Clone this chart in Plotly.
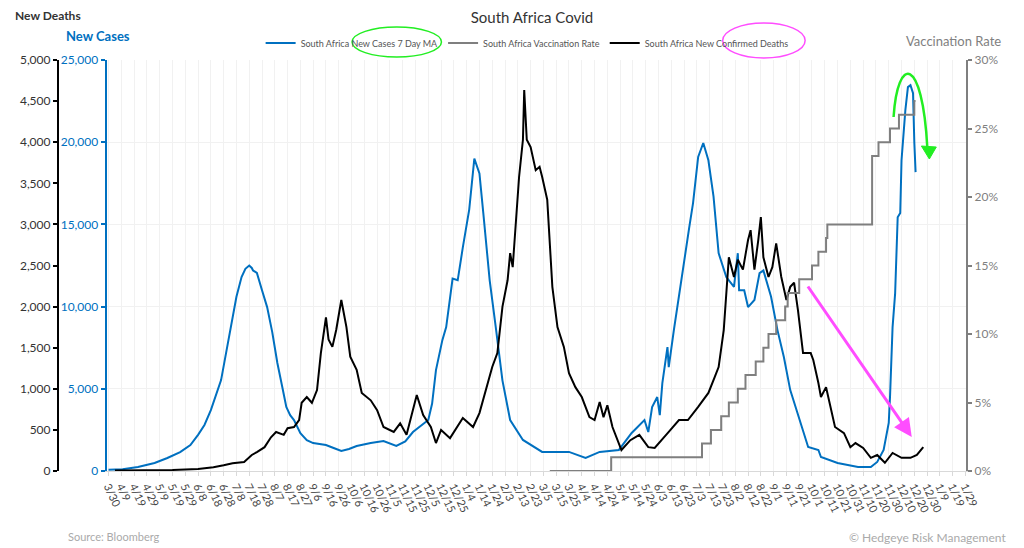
import plotly.graph_objects as go

# South Africa Covid: new cases (7d MA), new confirmed deaths, vaccination rate
cases_dates = [
    "2020-03-30", "2020-04-10", "2020-04-22", "2020-05-05", "2020-05-15", "2020-05-25",
    "2020-06-02", "2020-06-08", "2020-06-13", "2020-06-18", "2020-06-26", "2020-06-30",
    "2020-07-04", "2020-07-08", "2020-07-12", "2020-07-15", "2020-07-18", "2020-07-20",
    "2020-07-21", "2020-07-24", "2020-07-28", "2020-08-01", "2020-08-05", "2020-08-09",
    "2020-08-13", "2020-08-16", "2020-08-19", "2020-08-22", "2020-08-27", "2020-09-01",
    "2020-09-06", "2020-09-16", "2020-09-22", "2020-09-28", "2020-10-04", "2020-10-10",
    "2020-10-21", "2020-10-31", "2020-11-10", "2020-11-17", "2020-11-23", "2020-11-30",
    "2020-12-05", "2020-12-08", "2020-12-11", "2020-12-16", "2020-12-19", "2020-12-24",
    "2020-12-28", "2021-01-01", "2021-01-06", "2021-01-10", "2021-01-14", "2021-01-17",
    "2021-01-22", "2021-01-27", "2021-02-01", "2021-02-07", "2021-02-17", "2021-03-04",
    "2021-03-25", "2021-04-07", "2021-04-18", "2021-05-03", "2021-05-13", "2021-05-23",
    "2021-05-26", "2021-05-29", "2021-06-02", "2021-06-04", "2021-06-06", "2021-06-10",
    "2021-06-11", "2021-06-15", "2021-06-21", "2021-06-27", "2021-06-30", "2021-07-04",
    "2021-07-08", "2021-07-12", "2021-07-16", "2021-07-20", "2021-07-26", "2021-08-01",
    "2021-08-04", "2021-08-05", "2021-08-09", "2021-08-12", "2021-08-17", "2021-08-21",
    "2021-08-24", "2021-08-30", "2021-09-04", "2021-09-09", "2021-09-14", "2021-09-22",
    "2021-09-28", "2021-10-06", "2021-10-08", "2021-10-21", "2021-11-06", "2021-11-16",
    "2021-11-21", "2021-11-26", "2021-11-30", "2021-12-01", "2021-12-03", "2021-12-05",
    "2021-12-07", "2021-12-09", "2021-12-10", "2021-12-13", "2021-12-15", "2021-12-17",
    "2021-12-19", "2021-12-20", "2021-12-21",
]
cases_values = [
    80, 100, 240, 490, 790, 1150,
    1580, 2200, 2800, 3700, 5530, 7300,
    9000, 10600, 11800, 12300, 12500, 12350,
    12200, 12050, 11000, 9970, 8450, 6570,
    5050, 3890, 3400, 3100, 2300, 1880,
    1700, 1580, 1400, 1220, 1340, 1520,
    1700, 1820, 1520, 1800, 2370, 2800,
    3100, 4100, 6140, 7960, 8750, 11700,
    11600, 13600, 15900, 19000, 18100, 15700,
    11600, 8600, 5500, 3100, 1890, 1160,
    1160, 790, 1160, 1280, 2310, 3100,
    2370, 3890, 4500, 3400, 5350, 7540,
    6320, 8570, 11800, 14800, 16300, 19100,
    19950, 18900, 16700, 13250, 11800, 11200,
    13250, 11000, 11000, 9970, 10400, 12040,
    12200, 10600, 8570, 6930, 4920, 2920,
    1460, 1280, 850, 490, 240, 240,
    550, 1280, 2920, 4500, 8750, 10800,
    15440, 15700, 18900, 21950, 23350, 23470,
    22980, 20000, 18180,
]

deaths_dates = [
    "2020-04-04", "2020-04-29", "2020-05-19", "2020-06-08", "2020-06-20", "2020-06-28",
    "2020-07-05", "2020-07-14", "2020-07-20", "2020-07-24", "2020-07-30", "2020-08-04",
    "2020-08-08", "2020-08-14", "2020-08-17", "2020-08-22", "2020-08-26", "2020-08-28",
    "2020-09-01", "2020-09-05", "2020-09-09", "2020-09-12", "2020-09-16", "2020-09-18",
    "2020-09-21", "2020-09-24", "2020-09-28", "2020-10-02", "2020-10-05", "2020-10-10",
    "2020-10-14", "2020-10-21", "2020-10-26", "2020-10-31", "2020-11-08", "2020-11-13",
    "2020-11-18", "2020-11-26", "2020-12-01", "2020-12-07", "2020-12-11", "2020-12-15",
    "2020-12-22", "2021-01-01", "2021-01-09", "2021-01-14", "2021-01-19", "2021-01-24",
    "2021-01-28", "2021-02-01", "2021-02-05", "2021-02-07", "2021-02-09", "2021-02-11",
    "2021-02-14", "2021-02-17", "2021-02-18", "2021-02-20", "2021-02-23", "2021-02-27",
    "2021-03-02", "2021-03-04", "2021-03-08", "2021-03-12", "2021-03-16", "2021-03-21",
    "2021-03-25", "2021-03-30", "2021-04-04", "2021-04-10", "2021-04-14", "2021-04-18",
    "2021-04-21", "2021-04-24", "2021-04-28", "2021-05-05", "2021-05-12", "2021-05-19",
    "2021-05-26", "2021-05-31", "2021-06-05", "2021-06-11", "2021-06-19", "2021-06-26",
    "2021-07-04", "2021-07-12", "2021-07-17", "2021-07-20", "2021-07-24", "2021-07-26",
    "2021-07-28", "2021-08-01", "2021-08-04", "2021-08-08", "2021-08-12", "2021-08-14",
    "2021-08-17", "2021-08-20", "2021-08-22", "2021-08-24", "2021-08-28", "2021-08-31",
    "2021-09-03", "2021-09-07", "2021-09-11", "2021-09-14", "2021-09-17", "2021-09-20",
    "2021-09-24", "2021-09-30", "2021-10-02", "2021-10-06", "2021-10-08", "2021-10-12",
    "2021-10-16", "2021-10-19", "2021-10-26", "2021-10-31", "2021-11-04", "2021-11-10",
    "2021-11-16", "2021-11-21", "2021-11-27", "2021-12-03", "2021-12-10", "2021-12-17",
    "2021-12-22", "2021-12-27",
]
deaths_values = [
    5, 8, 12, 25, 45, 70,
    95, 110, 195, 230, 290, 410,
    475, 440, 520, 535, 620, 830,
    900, 830, 985, 1435, 1870, 1600,
    1510, 1715, 2080, 1750, 1390, 1230,
    950, 860, 740, 535, 475, 580,
    440, 925, 680, 535, 340, 500,
    400, 645, 535, 705, 985, 1265,
    1435, 2000, 2320, 2650, 2480, 2930,
    3580, 4030, 4635, 4030, 3940, 3660,
    3700, 3580, 3300, 2240, 1750, 1510,
    1190, 1020, 900, 655, 620, 840,
    655, 800, 535, 255, 375, 440,
    290, 280, 375, 475, 620, 620,
    780, 950, 1145, 1265, 1715, 2120,
    2600, 2360, 2570, 2450, 2810, 2930,
    2450, 2810, 3090, 2600, 2360, 2480,
    2770, 2360, 2080, 2240, 2290, 1960,
    1435, 1435, 1350, 1070, 900, 1020,
    740, 535, 460, 290, 340, 280,
    160, 195, 100, 220, 160, 160,
    195, 290,
]

vac_dates = [
    "2021-03-10", "2021-04-27", "2021-07-07", "2021-07-14", "2021-07-22", "2021-07-28",
    "2021-08-04", "2021-08-10", "2021-08-18", "2021-08-24", "2021-08-28", "2021-09-03",
    "2021-09-10", "2021-09-12", "2021-09-21", "2021-10-01", "2021-10-06", "2021-10-12",
    "2021-10-13", "2021-11-17", "2021-11-22", "2021-12-01", "2021-12-08", "2021-12-20",
    "2021-12-21",
]
vac_values = [
    0, 1, 2, 3, 4, 5,
    6, 7, 8, 9, 10, 11,
    12, 13, 14, 15, 16, 17,
    18, 23, 24, 25, 26, 27,
    27,
]

BLUE = "#0070C0"
GRAY = "#7F7F7F"
FONT = "Lato"

# the page puts the figure 8px in from the top-left corner
OFF = 8
W, H = 1024 - OFF, 548 - OFF
ML, MR, MT, MB = 32, 40, 52, 77
PW, PH = W - ML - MR, H - MT - MB


def px(x):  # page pixel -> paper x
    return (x - OFF - ML) / PW


def py(y):  # page pixel -> paper y
    return (H - MB - (y - OFF)) / PH


fig = go.Figure()
fig.add_trace(go.Scatter(x=cases_dates, y=cases_values, mode="lines",
                         name="South Africa New Cases 7 Day MA",
                         line=dict(color=BLUE, width=2), yaxis="y"))
fig.add_trace(go.Scatter(x=vac_dates, y=vac_values, mode="lines",
                         name="South Africa Vaccination Rate",
                         line=dict(color=GRAY, width=2, shape="hv"), yaxis="y3"))
fig.add_trace(go.Scatter(x=deaths_dates, y=deaths_values, mode="lines",
                         name="South Africa New Confirmed Deaths",
                         line=dict(color="black", width=2), yaxis="y2"))

fig.update_layout(
    width=W, height=H,
    margin=dict(l=ML, r=MR, t=MT, b=MB),
    paper_bgcolor="white", plot_bgcolor="white",
    font=dict(family=FONT, color="#333"),
    title=dict(text="South Africa Covid", x=(532 - OFF) / W, xanchor="center",
               y=1 - (18 - OFF) / H, yanchor="middle", font=dict(size=15, color="#333")),
    showlegend=True,
    legend=dict(orientation="h", x=px(256), y=py(43), xanchor="left", yanchor="middle",
                font=dict(size=9, color="#555"), itemwidth=30,
                bgcolor="rgba(0,0,0,0)"),
    xaxis=dict(
        domain=[px(101), px(966)],
        type="date",
        range=["2020-03-28 12:00", "2022-01-29 12:00"],
        tick0="2020-03-30", dtick=86400000 * 10, tickformat="%-m/%-d",
        tickangle=65, tickfont=dict(size=11, color="#444"),
        showgrid=True, gridcolor="#f1f1f1", gridwidth=1,
        showline=True, linecolor="#d9d9d9", linewidth=1,
        ticks="outside", ticklen=4, tickcolor="#d9d9d9",
        zeroline=False,
    ),
    yaxis=dict(
        range=[0, 25000], dtick=5000, tickformat=",",
        tickfont=dict(size=12, color=BLUE),
        showline=True, linecolor=BLUE, linewidth=2,
        ticks="outside", ticklen=4, tickcolor=BLUE, tickwidth=2,
        showgrid=True, gridcolor="#f1f1f1", zeroline=False,
    ),
    yaxis2=dict(
        overlaying="y", anchor="free", position=px(52), side="left",
        range=[0, 5000], dtick=500, tickformat=",",
        tickfont=dict(size=12, color="#333"),
        showline=True, linecolor="black", linewidth=2,
        ticks="outside", ticklen=4, tickcolor="black", tickwidth=2,
        showgrid=False, zeroline=False,
    ),
    yaxis3=dict(
        overlaying="y", anchor="x", side="right",
        range=[0, 30], dtick=5, ticksuffix="%",
        tickfont=dict(size=12, color=GRAY),
        showline=True, linecolor=GRAY, linewidth=2,
        ticks="outside", ticklen=4, tickcolor=GRAY, tickwidth=2,
        showgrid=False, zeroline=False,
    ),
)

# axis titles and footer text
texts = [
    ("New Deaths", 7, 15, "left", 12, "#333", True),
    ("New Cases", 58, 36, "left", 13, BLUE, True),
    ("Vaccination Rate", 1003, 41, "right", 13, GRAY, False),
    ("Source: Bloomberg", 60, 536, "left", 11, "#aaa", False),
    ("© Hedgeye Risk Management", 1008, 537, "right", 12, "#aaa", False),
]
for txt, x, y, anchor, size, color, bold in texts:
    fig.add_annotation(text=f"<b>{txt}</b>" if bold else txt, xref="paper", yref="paper",
                       x=px(x), y=py(y), xanchor=anchor, yanchor="middle",
                       showarrow=False, font=dict(size=size, color=color, family=FONT))

GREEN = "#22ee22"
MAGENTA = "#ff4dff"

# highlight ellipses round the legend labels
fig.add_shape(type="circle", xref="paper", yref="paper",
              x0=px(348), x1=px(438), y0=py(57), y1=py(27),
              line=dict(color=GREEN, width=1.5))
fig.add_shape(type="circle", xref="paper", yref="paper",
              x0=px(721), x1=px(804), y0=py(58), y1=py(23),
              line=dict(color=MAGENTA, width=1.5))

# green curved arrow over the omicron peak
fig.add_shape(type="path", xref="paper", yref="paper",
              path=f"M {px(893)},{py(117)} C {px(897)},{py(55)} {px(922)},{py(55)} {px(927)},{py(148)}",
              line=dict(color=GREEN, width=2.5))
fig.add_shape(type="path", xref="paper", yref="paper",
              path=f"M {px(921)},{py(146)} L {px(936)},{py(147)} L {px(929)},{py(159)} Z",
              fillcolor=GREEN, line=dict(color=GREEN, width=1))

# magenta arrow down to the current deaths
fig.add_annotation(x="2021-12-18", y=414, xref="x", yref="y2",
                   ax="2021-09-27", ay=2263, axref="x", ayref="y2",
                   showarrow=True, arrowhead=2, arrowsize=1.2, arrowwidth=3,
                   arrowcolor=MAGENTA, text="")

fig.write_html("out.html")
